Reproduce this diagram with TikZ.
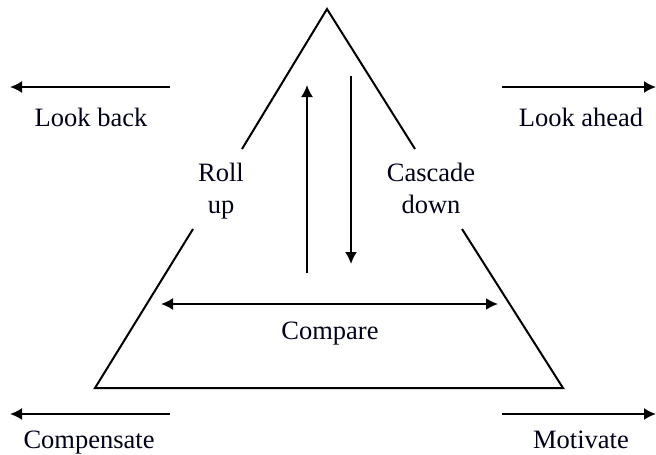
\documentclass[tikz,border=0pt]{standalone}
\usepackage{fontspec}
\setmainfont{Liberation Serif}
\usetikzlibrary{arrows.meta}
\begin{document}
\begin{tikzpicture}[x=1pt,y=-1pt,
  edge/.style={line width=2pt},
  arr/.style={line width=1.9pt,-{Latex[length=12pt,width=12pt]}},
  dblarr/.style={line width=1.9pt,{Latex[length=12pt,width=12pt]}-{Latex[length=12pt,width=12pt]}},
  lbl/.style={font=\fontsize{26.5}{32}\selectfont, text=black!90!blue, inner sep=0pt, align=center, anchor=base}]
\useasboundingbox (0,0) rectangle (656,455);
% triangle corners and gap ends
\coordinate (apex) at (327,9);
\coordinate (bl) at (95,388);
\coordinate (br) at (563,388);
\coordinate (lu) at (242,149);
\coordinate (ll) at (193,229);
\coordinate (ru) at (415,149);
\coordinate (rl) at (462,229);
\draw[edge] (lu) -- (apex) -- (ru);
\draw[edge] (ll) -- (bl) -- (br) -- (rl);
% inner arrows
\coordinate (upS) at (307,273);
\coordinate (upE) at (307,85);
\coordinate (dnS) at (351,76);
\coordinate (dnE) at (351,264);
\coordinate (cmpL) at (161,304);
\coordinate (cmpR) at (498,304);
\draw[arr] (upS) -- (upE);
\draw[arr] (dnS) -- (dnE);
\draw[dblarr] (cmpL) -- (cmpR);
% outer arrows
\coordinate (lbS) at (170,87);
\coordinate (lbE) at (10,87);
\coordinate (laS) at (502,87);
\coordinate (laE) at (656,87);
\coordinate (cpS) at (170,414);
\coordinate (cpE) at (10,414);
\coordinate (mvS) at (502,414);
\coordinate (mvE) at (656,414);
\draw[arr] (lbS) -- (lbE);
\draw[arr] (laS) -- (laE);
\draw[arr] (cpS) -- (cpE);
\draw[arr] (mvS) -- (mvE);
% labels
\node[lbl] (lookback) at (91,126) {Look back};
\node[lbl] (lookahead) at (581,126) {Look ahead};
\node[lbl] (rollup) at (221,213) {Roll\\up};
\node[lbl] (cascade) at (431,213) {Cascade\\down};
\node[lbl] (compare) at (330,339) {Compare};
\node[lbl] (compensate) at (89,448) {Compensate};
\node[lbl] (motivate) at (581,448) {Motivate};
\end{tikzpicture}
\end{document}
